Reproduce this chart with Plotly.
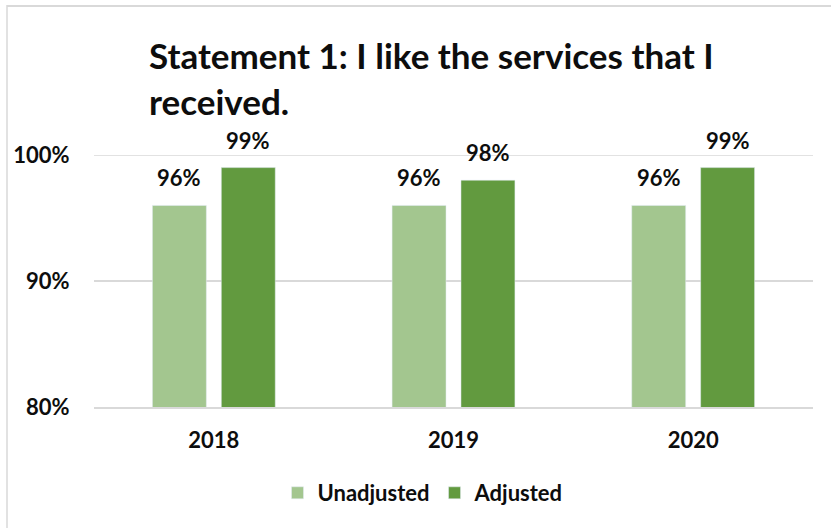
import plotly.graph_objects as go

# Survey results, Statement 1
years = ["2018", "2019", "2020"]
unadjusted = [0.96, 0.96, 0.96]
adjusted = [0.99, 0.98, 0.99]
series_names = ["Unadjusted", "Adjusted"]
y_ticks = [0.8, 0.9, 1.0]
y_tick_labels = ["80%", "90%", "100%"]

LIGHT = "#A3C68F"
DARK = "#629A3F"
GRID = "#D9D9D9"
TEXT = "#0D0D0D"
FONT = "Lato"

W, H = 831, 528
M_L, M_R, M_T, M_B = 94, 18, 155, 121

fig = go.Figure()
for name, vals, col in [(series_names[0], unadjusted, LIGHT), (series_names[1], adjusted, DARK)]:
    fig.add_trace(go.Bar(
        x=years, y=vals, name=f"<b>{name}</b>",
        marker=dict(color=col),
        hoverinfo="skip",
    ))

# value labels above each bar; x is the category index so that
# year-like strings are not read as numbers
slot_px = 69
for vals, dx in [(unadjusted, -slot_px / 2), (adjusted, slot_px / 2)]:
    for i, v in enumerate(vals):
        fig.add_annotation(
            x=i, y=v, xref="x", yref="y",
            text=f"<b>{v:.0%}</b>", showarrow=False,
            xshift=dx, yshift=12, yanchor="bottom",
            font=dict(family=FONT, size=22, color=TEXT),
        )

# outer chart frame (left and top edges) and the 100% gridline
pw = W - M_L - M_R
ph = H - M_T - M_B
def px_x(p):
    return (p - M_L) / pw
def px_y(p):
    return (H - M_B - p) / ph
fig.add_shape(type="line", xref="paper", yref="paper",
              x0=px_x(7), x1=px_x(7), y0=px_y(5), y1=px_y(H),
              line=dict(color=GRID, width=1.5))
fig.add_shape(type="line", xref="paper", yref="paper",
              x0=px_x(7), x1=px_x(W), y0=px_y(6), y1=px_y(6),
              line=dict(color=GRID, width=2))
fig.add_shape(type="line", xref="paper", yref="y",
              x0=0, x1=1, y0=y_ticks[-1], y1=y_ticks[-1],
              line=dict(color=GRID, width=1.5), layer="below")

fig.update_layout(
    width=W, height=H,
    margin=dict(l=M_L, r=M_R, t=M_T, b=M_B),
    paper_bgcolor="white", plot_bgcolor="white",
    barmode="group", bargap=0.425, bargroupgap=0.217,
    title=dict(
        text="<b>Statement 1: I like the services that I<br>received.</b>",
        x=149 / W, xanchor="left", y=1 - 69 / H, yanchor="top",
        font=dict(family=FONT, size=35, color=TEXT),
    ),
    font=dict(family=FONT, color=TEXT),
    showlegend=True,
    legend=dict(
        orientation="h", x=px_x(423), xanchor="center",
        y=px_y(493), yanchor="middle",
        font=dict(family=FONT, size=22, color=TEXT),
        traceorder="normal",
    ),
    xaxis=dict(
        type="category", categoryorder="array", categoryarray=years,
        range=[-0.5, len(years) - 0.5], autorange=False,
        showgrid=False, showline=True,
        linecolor=GRID, linewidth=1.5,
        ticks="outside", ticklen=13, tickcolor="rgba(0,0,0,0)",
        tickvals=years, ticktext=[f"<b>{y}</b>" for y in years],
        tickangle=0,
        tickfont=dict(family=FONT, size=22, color=TEXT),
    ),
    yaxis=dict(
        range=[0.8, 1.0], autorange=False,
        tickvals=y_ticks, ticktext=[f"<b>{t}</b>" for t in y_tick_labels],
        showgrid=True, gridcolor=GRID, gridwidth=1.5,
        zeroline=False, showline=False,
        ticks="outside", ticklen=19, tickcolor="rgba(0,0,0,0)",
        tickfont=dict(family=FONT, size=22, color=TEXT),
    ),
)

fig.write_html("out.html")
